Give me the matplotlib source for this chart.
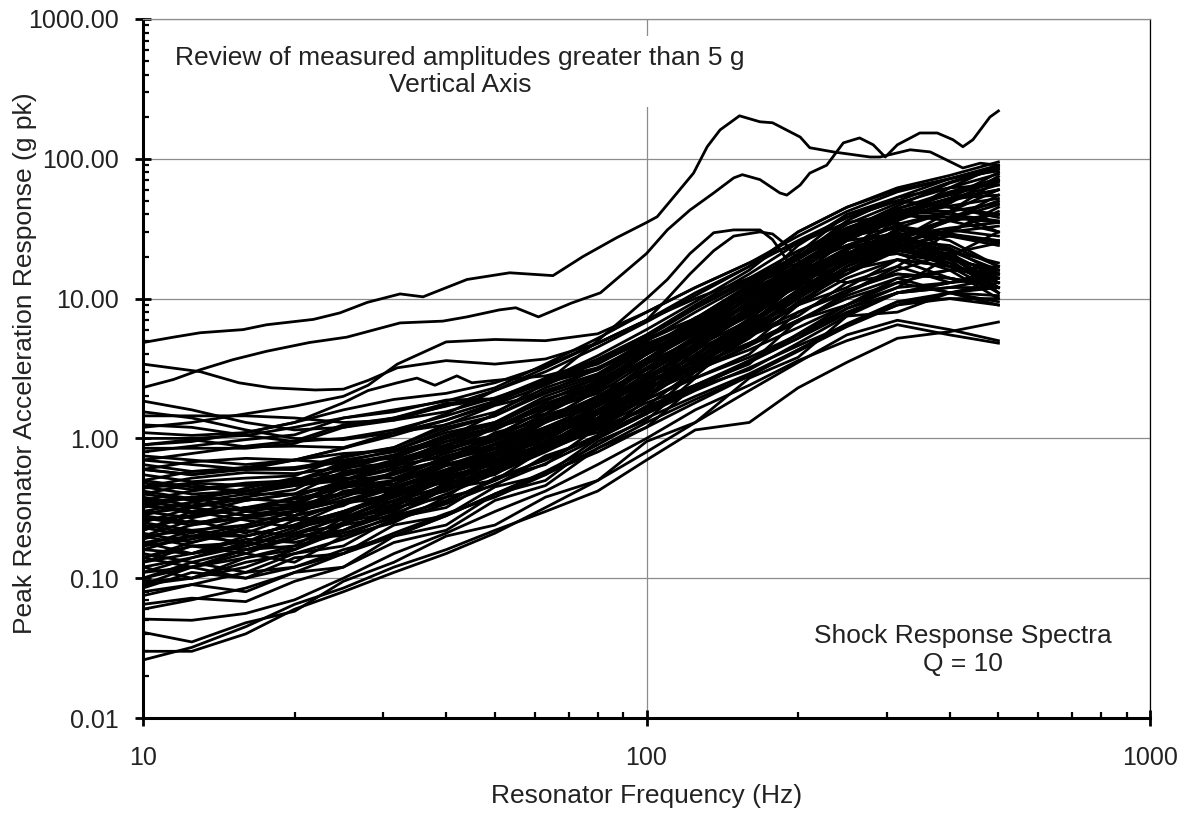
import matplotlib
matplotlib.use("Agg")
import matplotlib.pyplot as plt
from matplotlib.ticker import LogLocator, NullFormatter, FuncFormatter, FixedLocator

plt.rcParams['font.family'] = ['Liberation Sans', 'DejaVu Sans']

# ---------------- data ----------------
FREQ = [10, 12.5, 16, 20, 25, 31.5, 40, 50, 63, 80, 100, 125, 160, 200, 250, 315, 400, 500]

s01 = [0.026, 0.032, 0.045, 0.065, 0.085, 0.12, 0.16, 0.22, 0.3, 0.42, 0.7, 1.15, 1.3, 2.3, 3.5, 5.2, 5.8, 6.8]
s02 = [0.03, 0.03, 0.04, 0.06, 0.08, 0.11, 0.15, 0.21, 0.32, 0.5, 0.8, 1.3, 2.2, 3.5, 5.5, 7.0, 6.0, 5.0]
s03 = [0.041, 0.035, 0.048, 0.058, 0.095, 0.13, 0.2, 0.24, 0.38, 0.5, 0.95, 1.3, 2.7, 3.8, 7.5, 8.0, 11, 9.5]
s04 = [0.051, 0.05, 0.056, 0.07, 0.1, 0.15, 0.21, 0.3, 0.42, 0.65, 1.0, 1.6, 2.4, 3.6, 5.0, 6.5, 5.5, 4.8]
s05 = [0.065, 0.072, 0.068, 0.095, 0.12, 0.18, 0.22, 0.36, 0.46, 0.85, 1.2, 2.4, 3.4, 7, 9, 14, 11, 12]
s06 = [0.075, 0.09, 0.08, 0.11, 0.12, 0.2, 0.24, 0.4, 0.5, 0.95, 1.35, 2.7, 4.0, 8, 11, 17, 13, 14]
s07 = [0.085, 0.11, 0.1, 0.14, 0.15, 0.24, 0.28, 0.45, 0.55, 1.0, 1.5, 3.0, 4.6, 9, 12, 19, 14, 12]
s08 = [0.09, 0.12, 0.15, 0.13, 0.2, 0.25, 0.38, 0.46, 0.75, 1.0, 1.9, 2.8, 5.8, 9, 17, 23, 38, 50]
s09 = [0.1, 0.13, 0.11, 0.15, 0.17, 0.27, 0.32, 0.52, 0.65, 1.2, 1.6, 2.3, 3.1, 4.8, 7.5, 11, 13, 15]
s10 = [0.11, 0.14, 0.18, 0.16, 0.24, 0.28, 0.44, 0.5, 0.85, 1.2, 2.1, 3.0, 5.4, 7.5, 13, 17, 30, 45]
s11 = [0.12, 0.1, 0.14, 0.16, 0.25, 0.3, 0.48, 0.55, 0.9, 1.2, 2.3, 3.2, 6.5, 9, 16, 19, 17, 15]
s12 = [0.13, 0.17, 0.15, 0.2, 0.22, 0.32, 0.38, 0.65, 0.85, 1.5, 2.1, 4.3, 6.5, 13, 18, 32, 42, 70]
s13 = [0.14, 0.18, 0.22, 0.2, 0.28, 0.3, 0.48, 0.58, 0.9, 1.1, 1.7, 2.3, 3.6, 5.2, 8.5, 12, 20, 30]
s14 = [0.15, 0.13, 0.16, 0.17, 0.27, 0.32, 0.54, 0.65, 1.05, 1.4, 2.6, 3.5, 7, 10, 19, 26, 42, 60]
s15 = [0.16, 0.2, 0.18, 0.26, 0.28, 0.43, 0.48, 0.75, 0.95, 1.6, 2.3, 4.5, 7, 14, 20, 37, 48, 75]
s16 = [0.17, 0.22, 0.17, 0.21, 0.24, 0.36, 0.45, 0.72, 0.9, 1.5, 2.0, 3.8, 5.5, 11, 15, 23, 17, 13]
s17 = [0.18, 0.15, 0.2, 0.24, 0.34, 0.4, 0.58, 0.7, 1.1, 1.5, 2.8, 4.2, 8.5, 13, 23, 28, 23, 15]
s18 = [0.19, 0.24, 0.27, 0.26, 0.35, 0.38, 0.53, 0.6, 0.95, 1.2, 1.8, 2.4, 3.6, 5.5, 8.5, 11, 12, 12]
s19 = [0.2, 0.26, 0.21, 0.28, 0.33, 0.5, 0.58, 0.9, 1.1, 1.9, 2.6, 4.8, 7.5, 15, 22, 40, 52, 80]
s20 = [0.21, 0.18, 0.23, 0.28, 0.42, 0.47, 0.7, 0.85, 1.4, 1.9, 3.4, 5.2, 10.5, 16, 30, 43, 42, 30]
s21 = [0.22, 0.28, 0.32, 0.31, 0.4, 0.42, 0.64, 0.8, 1.3, 1.8, 3.2, 4.7, 9.5, 14, 23, 28, 36, 40]
s22 = [0.24, 0.21, 0.27, 0.3, 0.45, 0.5, 0.75, 0.9, 1.4, 1.8, 3.1, 4.4, 8.5, 12, 21, 24, 21, 14]
s23 = [0.25, 0.32, 0.37, 0.35, 0.45, 0.47, 0.66, 0.76, 1.18, 1.5, 2.3, 3.1, 4.6, 6.8, 11, 16, 21, 25]
s24 = [0.27, 0.24, 0.3, 0.33, 0.48, 0.56, 0.85, 1.05, 1.6, 2.2, 3.7, 5.7, 11.5, 24, 40, 50, 68, 85]
s25 = [0.28, 0.35, 0.4, 0.4, 0.48, 0.47, 0.64, 0.7, 1.07, 1.4, 2.45, 3.6, 6.9, 10.5, 19, 25, 31, 28]
s26 = [0.3, 0.27, 0.32, 0.34, 0.5, 0.62, 0.9, 1.05, 1.6, 2.1, 3.5, 5.0, 9.5, 14.5, 26, 38, 62, 90]
s27 = [0.32, 0.38, 0.31, 0.37, 0.4, 0.58, 0.7, 1.1, 1.35, 2.2, 2.9, 5.2, 7.6, 12.5, 16, 23, 19, 16]
s28 = [0.34, 0.29, 0.36, 0.4, 0.58, 0.66, 0.95, 1.15, 1.7, 2.3, 4.0, 6.2, 12.5, 21, 40, 53, 62, 65]
s29 = [0.36, 0.42, 0.47, 0.46, 0.52, 0.52, 0.72, 0.85, 1.32, 1.7, 2.5, 3.3, 4.8, 7.0, 10.5, 14, 16, 15]
s30 = [0.38, 0.33, 0.38, 0.43, 0.63, 0.76, 1.05, 1.25, 1.9, 2.5, 4.2, 6.2, 11.5, 17, 30, 38, 52, 55]
s31 = [0.4, 0.47, 0.4, 0.46, 0.5, 0.68, 0.8, 1.2, 1.5, 2.5, 3.4, 6.1, 9, 16, 21, 29, 19, 11]
s32 = [0.42, 0.37, 0.42, 0.48, 0.68, 0.82, 1.15, 1.45, 2.2, 2.9, 4.7, 6.7, 12.5, 19, 31, 40, 57, 70]
s33 = [0.45, 0.52, 0.57, 0.56, 0.62, 0.66, 0.86, 1.0, 1.47, 1.9, 3.15, 4.6, 8.4, 12.5, 20, 23, 18, 12]
s34 = [0.48, 0.43, 0.48, 0.5, 0.65, 0.75, 1.05, 1.3, 2.0, 2.7, 4.4, 6.5, 11.5, 15, 23, 25, 17, 11]
s35 = [0.5, 0.58, 0.62, 0.6, 0.68, 0.72, 1.0, 1.2, 1.78, 2.4, 4.0, 5.9, 11, 17, 31, 46, 67, 85]
s36 = [0.55, 0.49, 0.52, 0.54, 0.73, 0.86, 1.2, 1.45, 2.1, 2.8, 4.5, 6.7, 12.5, 20, 36, 53, 72, 90]
s37 = [0.6, 0.68, 0.72, 0.7, 0.78, 0.82, 1.1, 1.3, 1.9, 2.5, 4.1, 5.7, 10, 13.5, 20, 21, 16, 10]
s38 = [0.65, 0.58, 0.6, 0.6, 0.75, 0.86, 1.26, 1.54, 2.3, 3.1, 5.0, 7.2, 12.5, 17, 26, 29, 29, 25]
s39 = [0.7, 0.78, 0.88, 0.96, 1.25, 1.4, 1.78, 1.92, 2.6, 3.2, 4.8, 6.2, 10, 13.5, 19, 21, 18, 12]
s40 = [0.75, 0.7, 0.65, 0.7, 0.85, 1.05, 1.35, 1.8, 2.6, 3.9, 6, 9.5, 16, 30, 45, 62, 76, 95]
s41 = [0.8, 0.88, 0.98, 1.06, 1.4, 1.55, 1.88, 1.92, 2.5, 3.1, 4.7, 6.5, 10.5, 14.5, 21, 23, 20, 13]
s42 = [0.85, 0.85, 0.85, 0.92, 1.2, 1.35, 1.72, 1.92, 2.7, 3.4, 5.2, 7.2, 12.5, 18, 29, 36, 50, 60]
s43 = [0.9, 0.98, 0.87, 0.88, 0.86, 1.1, 1.25, 1.72, 2.1, 3.2, 4.3, 7.3, 10.5, 17.5, 24, 33, 29, 26]
s44 = [1.0, 1.0, 1.05, 1.2, 1.4, 1.6, 1.85, 2.3, 3.4, 5.2, 8.0, 12, 18, 28, 42, 58, 72, 88]
s45 = [1.1, 1.05, 1.1, 1.3, 1.6, 1.9, 2.1, 2.5, 3.3, 4.8, 7.0, 10, 14, 20, 30, 40, 36, 30]
s46 = [1.25, 1.2, 1.05, 0.95, 1.0, 1.15, 1.45, 1.85, 2.5, 3.6, 5.5, 9, 15, 25, 38, 50, 45, 38]
s47 = [1.45, 1.45, 1.45, 1.4, 1.3, 1.35, 1.55, 1.95, 2.6, 3.7, 5.5, 8.8, 14, 22, 32, 42, 40, 36]
s48 = [1.55, 1.4, 1.15, 1.0, 0.98, 1.1, 1.35, 1.75, 2.4, 3.5, 5.3, 8.5, 13.5, 20, 28, 35, 22, 11]
s49 = [1.85, 1.6, 1.3, 1.15, 1.2, 1.4, 1.7, 2.2, 3.0, 4.5, 6.8, 10.5, 17, 30, 45, 60, 72, 82]
s50 = [0.18, 0.2, 0.24, 0.3, 0.36, 0.45, 0.58, 0.78, 1.1, 1.7, 2.7, 4.5, 8, 13, 20, 28, 32, 35]
s51 = [0.23, 0.2, 0.2, 0.24, 0.3, 0.4, 0.55, 0.75, 1.05, 1.55, 2.4, 3.9, 6.8, 11.5, 18, 26, 30, 33]
s52 = [0.29, 0.32, 0.28, 0.3, 0.38, 0.5, 0.68, 0.92, 1.3, 2.0, 3.1, 5.2, 9.5, 17, 28, 42, 52, 60]
s53 = [0.12, 0.14, 0.17, 0.21, 0.27, 0.36, 0.5, 0.7, 1.0, 1.6, 2.6, 4.4, 7.8, 13, 20, 27, 22, 16]
s54 = [0.33, 0.3, 0.31, 0.38, 0.5, 0.66, 0.88, 1.2, 1.7, 2.6, 4.0, 6.6, 11, 17, 24, 30, 20, 12]
s55 = [0.095, 0.1, 0.12, 0.16, 0.22, 0.31, 0.43, 0.6, 0.85, 1.3, 2.0, 3.3, 5.5, 9, 14, 19, 17, 14]
s56 = [0.44, 0.48, 0.46, 0.48, 0.56, 0.7, 0.9, 1.2, 1.65, 2.4, 3.7, 6.0, 10, 17, 27, 40, 52, 65]
s57 = [0.26, 0.28, 0.32, 0.37, 0.44, 0.55, 0.72, 0.98, 1.35, 2.0, 3.1, 5.0, 8.5, 14, 21, 28, 20, 13]
s58 = [0.16, 0.15, 0.17, 0.22, 0.3, 0.41, 0.56, 0.78, 1.1, 1.7, 2.7, 4.6, 8.3, 14, 23, 34, 42, 48]
s59 = [0.22, 0.3, 0.26, 0.23, 0.27, 0.38, 0.5, 0.62, 0.95, 1.3, 2.2, 3.4, 6.2, 10, 17, 24, 28, 26]
s60 = [0.14, 0.12, 0.16, 0.2, 0.2, 0.28, 0.35, 0.52, 0.7, 1.05, 1.7, 3.1, 5.2, 9.5, 15, 22, 19, 16]
s61 = [0.35, 0.32, 0.28, 0.32, 0.4, 0.45, 0.6, 0.8, 1.2, 1.75, 2.9, 4.7, 8.8, 15.5, 27, 44, 58, 72]
s62 = [0.11, 0.12, 0.1, 0.12, 0.16, 0.2, 0.28, 0.4, 0.58, 0.9, 1.4, 2.0, 2.9, 4.3, 6.6, 9.5, 11, 10.5]
s63 = [0.4, 0.36, 0.44, 0.52, 0.5, 0.6, 0.78, 1.0, 1.5, 2.3, 3.7, 6.3, 11.5, 20, 34, 48, 62, 78]
s64 = [0.25, 0.22, 0.24, 0.3, 0.36, 0.35, 0.46, 0.62, 0.88, 1.35, 2.2, 3.6, 6.4, 11, 18, 25, 20, 15]
s65 = [0.17, 0.19, 0.23, 0.27, 0.26, 0.34, 0.42, 0.58, 0.82, 1.25, 2.0, 3.3, 6.0, 10.5, 17, 26, 36, 55]
s66 = [0.6, 0.55, 0.62, 0.7, 0.66, 0.76, 0.95, 1.2, 1.65, 2.4, 3.6, 5.6, 9, 14, 21, 26, 24, 17]
s67 = [0.3, 0.35, 0.3, 0.28, 0.34, 0.44, 0.56, 0.7, 1.0, 1.5, 2.4, 4.0, 7.2, 12.5, 21, 31, 26, 17]
s68 = [0.13, 0.15, 0.19, 0.18, 0.22, 0.29, 0.4, 0.56, 0.8, 1.2, 1.95, 3.3, 5.8, 10, 16, 23, 30, 42]
s69 = [0.5, 0.45, 0.42, 0.47, 0.56, 0.64, 0.74, 0.96, 1.35, 2.0, 3.2, 5.4, 9.5, 16, 26, 38, 46, 52]
s70 = [0.08, 0.09, 0.11, 0.12, 0.15, 0.21, 0.29, 0.38, 0.55, 0.85, 1.3, 1.9, 2.8, 4.2, 6.3, 9, 10, 10]
s71 = [0.2, 0.17, 0.18, 0.23, 0.29, 0.39, 0.52, 0.68, 0.92, 1.4, 2.25, 3.7, 6.6, 11.5, 19, 28, 37, 47]
s72 = [0.7, 0.65, 0.6, 0.62, 0.7, 0.8, 1.0, 1.3, 1.85, 2.7, 4.3, 7.0, 12, 20, 32, 44, 55, 68]
s73 = [0.09, 0.1, 0.13, 0.15, 0.19, 0.26, 0.34, 0.47, 0.66, 1.0, 1.5, 2.2, 3.2, 4.6, 6.5, 9, 11, 13]
s74 = [0.2, 0.22, 0.2, 0.24, 0.3, 0.38, 0.5, 0.66, 0.9, 1.3, 1.9, 2.7, 3.8, 5.5, 8, 11, 12, 14]
s75 = [0.33, 0.38, 0.36, 0.4, 0.46, 0.56, 0.7, 0.9, 1.2, 1.6, 2.3, 3.1, 4.3, 6.2, 9, 12, 13, 15]
s76 = [0.06, 0.07, 0.085, 0.11, 0.15, 0.2, 0.28, 0.4, 0.56, 0.8, 1.2, 1.8, 2.8, 4.3, 6.5, 9.5, 10, 9]
s77 = [0.14, 0.17, 0.16, 0.19, 0.25, 0.33, 0.44, 0.6, 0.82, 1.15, 1.65, 2.4, 3.5, 5.2, 7.8, 11, 13, 16]
s78 = [0.45, 0.4, 0.42, 0.46, 0.54, 0.65, 0.82, 1.05, 1.4, 1.9, 2.7, 3.8, 5.5, 8, 11.5, 15, 14, 12]
s79 = [0.1, 0.12, 0.14, 0.17, 0.21, 0.27, 0.36, 0.5, 0.72, 1.05, 1.55, 2.3, 3.5, 5.6, 9, 13, 16, 17]
s80 = [0.28, 0.25, 0.27, 0.33, 0.4, 0.5, 0.64, 0.84, 1.15, 1.6, 2.3, 3.3, 4.8, 7, 10, 13, 11, 9]

# individually traced curves (own frequency lists)
A_f = [10, 11.5, 13, 15.8, 17.6, 21.8, 24.6, 27.9, 32.4, 36, 44, 53.5, 65.2, 74.8, 87.3, 100, 105,
       115, 124, 132, 140, 153, 168, 178, 202, 211, 235, 278, 291, 334, 366, 388, 425, 460, 500]
A_v = [4.85, 5.3, 5.7, 6.0, 6.5, 7.1, 7.9, 9.4, 10.8, 10.3, 13.7, 15.3, 14.6, 20, 27.3, 35, 38.5,
       57, 79, 122, 161, 203, 184, 181, 143, 120, 112, 103, 103, 116, 112, 101, 86, 93, 90]

B_f = [10, 11.5, 13, 15.1, 17.6, 21.4, 25.4, 32.4, 39.4, 44, 51, 55, 61, 71, 81, 87, 100, 110, 122,
       136, 149, 155, 168, 184, 190, 202, 211, 228, 246, 265, 282, 298, 315, 349, 378, 406, 425,
       445, 481, 500]
B_v = [2.31, 2.64, 3.1, 3.66, 4.2, 4.85, 5.3, 6.7, 6.9, 7.4, 8.3, 8.6, 7.4, 9.3, 11, 13.7, 21, 31,
       43, 57, 73, 77, 71, 57, 55, 65, 79, 90, 130, 141, 126, 103, 126, 153, 153, 137, 122, 137,
       199, 220]

C_f = [10, 12.5, 16, 20, 25, 31.5, 40, 50, 63, 80, 100, 110, 122, 136, 149, 168, 178, 190, 202,
       225, 250, 315, 400, 500]
C1_v = [0.35, 0.38, 0.42, 0.5, 0.6, 0.75, 1.0, 1.5, 2.5, 5.0, 10, 13.7, 21, 29.6, 31, 31, 26.4,
        19, 14.4, 15, 18, 25, 22, 18]
C2_v = [0.6, 0.55, 0.6, 0.7, 0.85, 1.1, 1.5, 2.2, 3.2, 4.8, 7, 10, 15, 22, 28, 30, 29, 24, 18,
        14, 13, 15, 14, 12]

D_f = [10, 13, 15.5, 18, 22, 25, 28, 32, 40, 50, 63, 80, 100, 125, 160, 200, 250, 315, 400, 500]
D_v = [3.4, 3.0, 2.5, 2.3, 2.22, 2.25, 2.6, 3.2, 3.6, 3.4, 3.7, 4.8, 7, 11, 17, 26, 38, 50, 45, 40]

E_f = [10, 12.5, 16, 20, 25, 28, 32, 40, 50, 63, 80, 100, 125, 160, 200, 250, 315, 400, 500]
E_v = [1.2, 1.3, 1.5, 1.7, 2.0, 2.4, 3.4, 4.9, 5.1, 5.0, 5.6, 8, 12, 18, 25, 35, 40, 38, 35]

J_f = [10, 12.5, 16, 20, 25, 28, 32, 35, 38, 42, 45, 50, 63, 80, 100, 125, 160, 200, 250, 315,
       400, 500]
J_v = [0.9, 0.95, 1.1, 1.3, 1.8, 2.2, 2.5, 2.7, 2.4, 2.8, 2.5, 2.6, 2.8, 3.5, 5, 8, 13, 20, 28,
       32, 28, 24]

X_TICKS = [10, 100, 1000]
Y_TICKS = [0.01, 0.1, 1, 10, 100, 1000]
X_LABEL = "Resonator Frequency (Hz)"
Y_LABEL = "Peak Resonator Acceleration Response (g pk)"
NOTE_TOP = "Review of measured amplitudes greater than 5 g\nVertical Axis"
NOTE_BOT = "Shock Response Spectra\nQ = 10"

# ---------------- drawing ----------------
BULK = [s01, s02, s03, s04, s05, s06, s07, s08, s09, s10, s11, s12, s13, s14, s15, s16, s17,
        s18, s19, s20, s21, s22, s23, s24, s25, s26, s27, s28, s29, s30, s31, s32, s33, s34,
        s35, s36, s37, s38, s39, s40, s41, s42, s43, s44, s45, s46, s47, s48, s49, s50, s51,
        s52, s53, s54, s55, s56, s57, s58, s59, s60, s61, s62, s63, s64, s65, s66, s67, s68,
        s69, s70, s71, s72, s73, s74, s75, s76, s77, s78, s79, s80]
TRACED = [(A_f, A_v), (B_f, B_v), (C_f, C1_v), (C_f, C2_v), (D_f, D_v), (E_f, E_v), (J_f, J_v)]

TXT = '#222222'
fig = plt.figure(figsize=(11.9, 8.16), dpi=100)
ax = fig.add_axes([143 / 1190, 1 - 718 / 816, (1150 - 143) / 1190, (718 - 19) / 816])
ax.set_xscale('log')
ax.set_yscale('log')

LW = 2.0
for vals in BULK:
    ax.plot(FREQ, vals, color='black', lw=LW, solid_joinstyle='round', zorder=3)
for f, v in TRACED:
    ax.plot(f, v, color='black', lw=LW, solid_joinstyle='round', zorder=3)

ax.set_xlim(10, 1000)
ax.set_ylim(0.01, 1000)

ax.xaxis.set_major_locator(FixedLocator(X_TICKS))
ax.yaxis.set_major_locator(FixedLocator(Y_TICKS))
ax.xaxis.set_minor_locator(LogLocator(base=10, subs=range(2, 10), numticks=20))
ax.yaxis.set_minor_locator(LogLocator(base=10, subs=range(2, 10), numticks=20))
ax.xaxis.set_minor_formatter(NullFormatter())
ax.yaxis.set_minor_formatter(NullFormatter())
ax.xaxis.set_major_formatter(FuncFormatter(lambda v, p: f"{v:g}"))
ax.yaxis.set_major_formatter(FuncFormatter(lambda v, p: f"{v:.2f}"))

ax.set_axisbelow(True)
ax.grid(True, which='major', axis='both', color='#8c8c8c', lw=0.9)

for side in ('left', 'bottom'):
    ax.spines[side].set_linewidth(2.2)
    ax.spines[side].set_color('black')
ax.spines['top'].set_color('#8c8c8c')
ax.spines['top'].set_linewidth(0.9)
ax.spines['right'].set_color('black')
ax.spines['right'].set_linewidth(0.9)

ax.tick_params(which='major', direction='inout', length=11, width=2, labelsize=18,
               labelcolor=TXT, top=False, right=False)
ax.tick_params(which='minor', direction='in', length=4.5, width=1.6, top=False, right=False)
ax.tick_params(axis='y', which='major', pad=12)
ax.tick_params(axis='x', which='major', pad=15)

ax.set_xlabel(X_LABEL, fontsize=19, color=TXT)
ax.set_ylabel(Y_LABEL, fontsize=19, color=TXT)
ax.xaxis.set_label_coords(0.5, -0.094)
ax.yaxis.set_label_coords(-0.105, 0.508)

ax.text(0.315, 0.925, NOTE_TOP, transform=ax.transAxes, ha='center', va='center',
        multialignment='center', fontsize=19, color=TXT, linespacing=1.2, zorder=2,
        bbox=dict(facecolor='white', edgecolor='none', boxstyle='square,pad=0.35'))
ax.text(0.814, 0.097, NOTE_BOT, transform=ax.transAxes, ha='center', va='center',
        multialignment='center', fontsize=19, color=TXT, linespacing=1.2, zorder=2)

fig.savefig('out.png', dpi=100)
